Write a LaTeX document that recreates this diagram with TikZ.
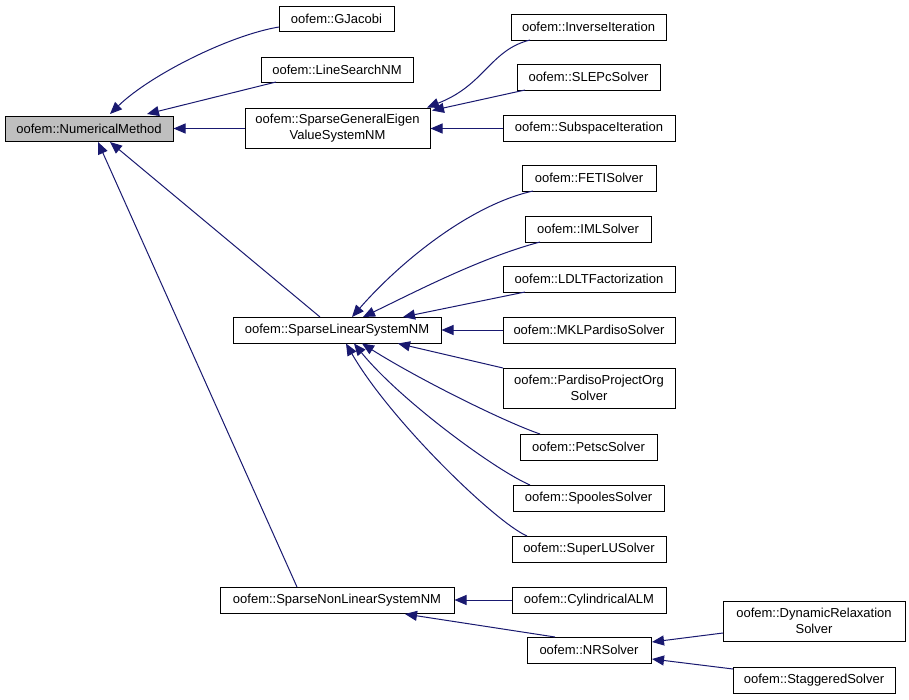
\documentclass[tikz,border=0pt]{standalone}
\usepackage{fontspec}
\setmainfont{Liberation Sans}
\usetikzlibrary{arrows.meta,calc}
\definecolor{edgeblue}{HTML}{191970}
\definecolor{basegray}{HTML}{BFBFBF}
\tikzset{
  cls/.style={draw=black,line width=1pt,fill=white,inner sep=0pt,align=center,
    font=\fontsize{13}{16}\selectfont},
  edge/.style={draw=edgeblue,line width=1pt,-{Triangle[length=12pt,width=10pt]}}
}
\begin{document}
\begin{tikzpicture}[x=1pt,y=-1pt]
\useasboundingbox[fill=white] (0,0) rectangle (909,699);
% nodes
\node[cls,fill=basegray,minimum width=168pt,minimum height=25pt] (nm) at (89,128.5) {oofem::NumericalMethod};
\node[cls,minimum width=115pt,minimum height=25pt] (gj) at (336.5,18.5) {oofem::GJacobi};
\node[cls,minimum width=152pt,minimum height=25pt] (ls) at (337,69.5) {oofem::LineSearchNM};
\node[cls,minimum width=185pt,minimum height=40pt] (sg) at (337.5,128.5) {oofem::SparseGeneralEigen\\ValueSystemNM};
\node[cls,minimum width=155pt,minimum height=26pt] (ii) at (588.5,27) {oofem::InverseIteration};
\node[cls,minimum width=143pt,minimum height=26pt] (slepc) at (588.5,77) {oofem::SLEPcSolver};
\node[cls,minimum width=172pt,minimum height=26pt] (sub) at (589,128.5) {oofem::SubspaceIteration};
\node[cls,minimum width=134pt,minimum height=26pt] (feti) at (589,178) {oofem::FETISolver};
\node[cls,minimum width=126pt,minimum height=26pt] (iml) at (588,229) {oofem::IMLSolver};
\node[cls,minimum width=172pt,minimum height=26pt] (ldlt) at (589,279) {oofem::LDLTFactorization};
\node[cls,minimum width=208pt,minimum height=26pt] (sls) at (337,330) {oofem::SparseLinearSystemNM};
\node[cls,minimum width=172pt,minimum height=26pt] (mkl) at (589,330) {oofem::MKLPardisoSolver};
\node[cls,minimum width=172pt,minimum height=40pt] (pard) at (589,388) {oofem::PardisoProjectOrg\\Solver};
\node[cls,minimum width=137pt,minimum height=26pt] (petsc) at (588.5,447) {oofem::PetscSolver};
\node[cls,minimum width=151pt,minimum height=26pt] (spool) at (588.5,498) {oofem::SpoolesSolver};
\node[cls,minimum width=154pt,minimum height=26pt] (superlu) at (589,549) {oofem::SuperLUSolver};
\node[cls,minimum width=234pt,minimum height=26pt] (snls) at (337,600) {oofem::SparseNonLinearSystemNM};
\node[cls,minimum width=154pt,minimum height=26pt] (cyl) at (589,600) {oofem::CylindricalALM};
\node[cls,minimum width=124pt,minimum height=26pt] (nr) at (589,650) {oofem::NRSolver};
\node[cls,minimum width=182pt,minimum height=40pt] (dyn) at (814,621) {oofem::DynamicRelaxation\\Solver};
\node[cls,minimum width=162pt,minimum height=26pt] (stag) at (814,680) {oofem::StaggeredSolver};
% edges
\draw[edge] ($(gj)+(-57.5,8.5)$) .. controls (230,35) and (150,75) .. ($(nm)+(21,-14.5)$);
\draw[edge] ($(ls)+(-61,12.5)$) -- ($(nm)+(58,-14.5)$);
\draw[edge] (sg.west) -- (nm.east);
\draw[edge] ($(sls)+(-17,-13)$) -- ($(nm)+(21,13.5)$);
\draw[edge] ($(snls)+(-40,-13)$) -- ($(nm)+(9,13.5)$);
\draw[edge] ($(ii)+(-58.5,13)$) .. controls (490,50) and (485,85) .. ($(sg)+(89.5,-21)$);
\draw[edge] ($(slepc)+(-63.5,13)$) -- ($(sg)+(94.5,-18)$);
\draw[edge] (sub.west) -- (sg.east);
\draw[edge] ($(feti)+(-56,13)$) .. controls (470,205) and (400,262) .. ($(sls)+(15,-13)$);
\draw[edge] ($(iml)+(-48,13)$) .. controls (480,258) and (415,292) .. ($(sls)+(26,-13)$);
\draw[edge] ($(ldlt)+(-64,13)$) -- ($(sls)+(66,-13)$);
\draw[edge] (mkl.west) -- (sls.east);
\draw[edge] ($(pard)+(-86,-20)$) -- ($(sls)+(61,13.5)$);
\draw[edge] ($(petsc)+(-48.5,-13)$) .. controls (505,422) and (420,380) .. ($(sls)+(25,13.5)$);
\draw[edge] ($(spool)+(-58.5,-13)$) .. controls (495,470) and (400,400) .. ($(sls)+(17,13.5)$);
\draw[edge] ($(superlu)+(-62,-13)$) .. controls (495,522) and (390,420) .. ($(sls)+(9,13.5)$);
\draw[edge] (cyl.west) -- (snls.east);
\draw[edge] ($(nr)+(-34,-13)$) -- ($(snls)+(68,14)$);
\draw[edge] ($(dyn)+(-91,12)$) -- ($(nr)+(63,-8)$);
\draw[edge] ($(stag)+(-81,-11)$) -- ($(nr)+(63,9)$);
\end{tikzpicture}
\end{document}
